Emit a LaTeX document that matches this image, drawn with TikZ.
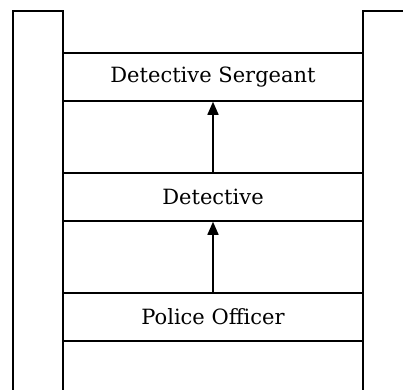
\documentclass[tikz,border=0pt]{standalone}
\usepackage{fontspec}
\setmainfont{DejaVu Serif}
\usetikzlibrary{arrows.meta}

\begin{document}
\begin{tikzpicture}[x=1pt,y=-1pt,line width=1.5pt,
  rung/.style={draw,minimum width=300pt,minimum height=48pt,inner sep=0pt,
    font=\fontsize{21}{25}\selectfont},
  promote/.style={-{Triangle[width=11pt,length=13pt]}}]

  \useasboundingbox (0,0) rectangle (403,389);
  \clip (0,0) rectangle (403,389);

  % the two rails
  \draw (13,400)--(13,11)--(63,11)--(63,400);
  \draw (363,400)--(363,11)--(420,11);

  % the rungs
  \node[rung] (sergeant)  at (213,77)  {Detective Sergeant};
  \node[rung] (detective) at (213,197) {Detective};
  \node[rung] (officer)   at (213,317) {Police Officer};

 \draw[promote] (officer.north)--(detective.south);
 \draw[promote] (detective.north)--(sergeant.south);
\end{tikzpicture}
\end{document}
